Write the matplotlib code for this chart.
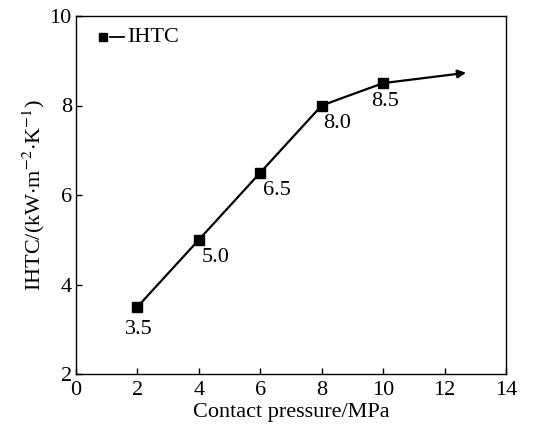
import matplotlib.pyplot as plt

plt.rcParams['font.family'] = ['Liberation Serif', 'DejaVu Serif']
plt.rcParams['mathtext.fontset'] = 'stix'

# data
pressure = [2, 4, 6, 8, 10]
ihtc = [3.5, 5.0, 6.5, 8.0, 8.5]
labels = ['3.5', '5.0', '6.5', '8.0', '8.5']
arrow_end = (12.7, 8.73)

fig = plt.figure(figsize=(5.54, 4.30), dpi=100)
ax = fig.add_axes([76/554, 1 - 374/430, 430/554, 358/430])

ax.plot(pressure, ihtc, '-', color='black', lw=1.6, marker='s', ms=7)
ax.annotate('', xy=arrow_end, xytext=(pressure[-1], ihtc[-1]),
            arrowprops=dict(arrowstyle='-|>', color='black', lw=1.6,
                            mutation_scale=12, shrinkA=0, shrinkB=0))

# value labels
offs = [(-0.4, -0.6), (0.1, -0.5), (0.1, -0.5), (0.05, -0.5), (-0.4, -0.5)]
for x, y, t, (dx, dy) in zip(pressure, ihtc, labels, offs):
    ax.text(x + dx, y + dy, t, fontsize=16, ha='left', va='baseline')

# legend drawn by hand: marker first, then a short line
ax.plot([0.062], [0.94], 's', color='black', ms=6, transform=ax.transAxes, clip_on=False)
ax.plot([0.078, 0.112], [0.94, 0.94], '-', color='black', lw=1.3, transform=ax.transAxes)
ax.text(0.12, 0.94, 'IHTC', fontsize=16, ha='left', va='center', transform=ax.transAxes)

ax.set_xlim(0, 14)
ax.set_ylim(2, 10)
ax.set_xticks(range(0, 15, 2))
ax.set_yticks(range(2, 11, 2))
ax.tick_params(direction='in', labelsize=16, length=4, width=1)
ax.tick_params(axis='x', pad=5)
ax.tick_params(axis='y', pad=3)
ax.set_xlabel('Contact pressure/MPa', fontsize=16, labelpad=2)
ax.set_ylabel(r'IHTC/(kW$\cdot$m$^{-2}$$\cdot$K$^{-1}$)', fontsize=16, labelpad=2)
for s in ax.spines.values():
    s.set_linewidth(1)

fig.savefig('out.png', dpi=100)
